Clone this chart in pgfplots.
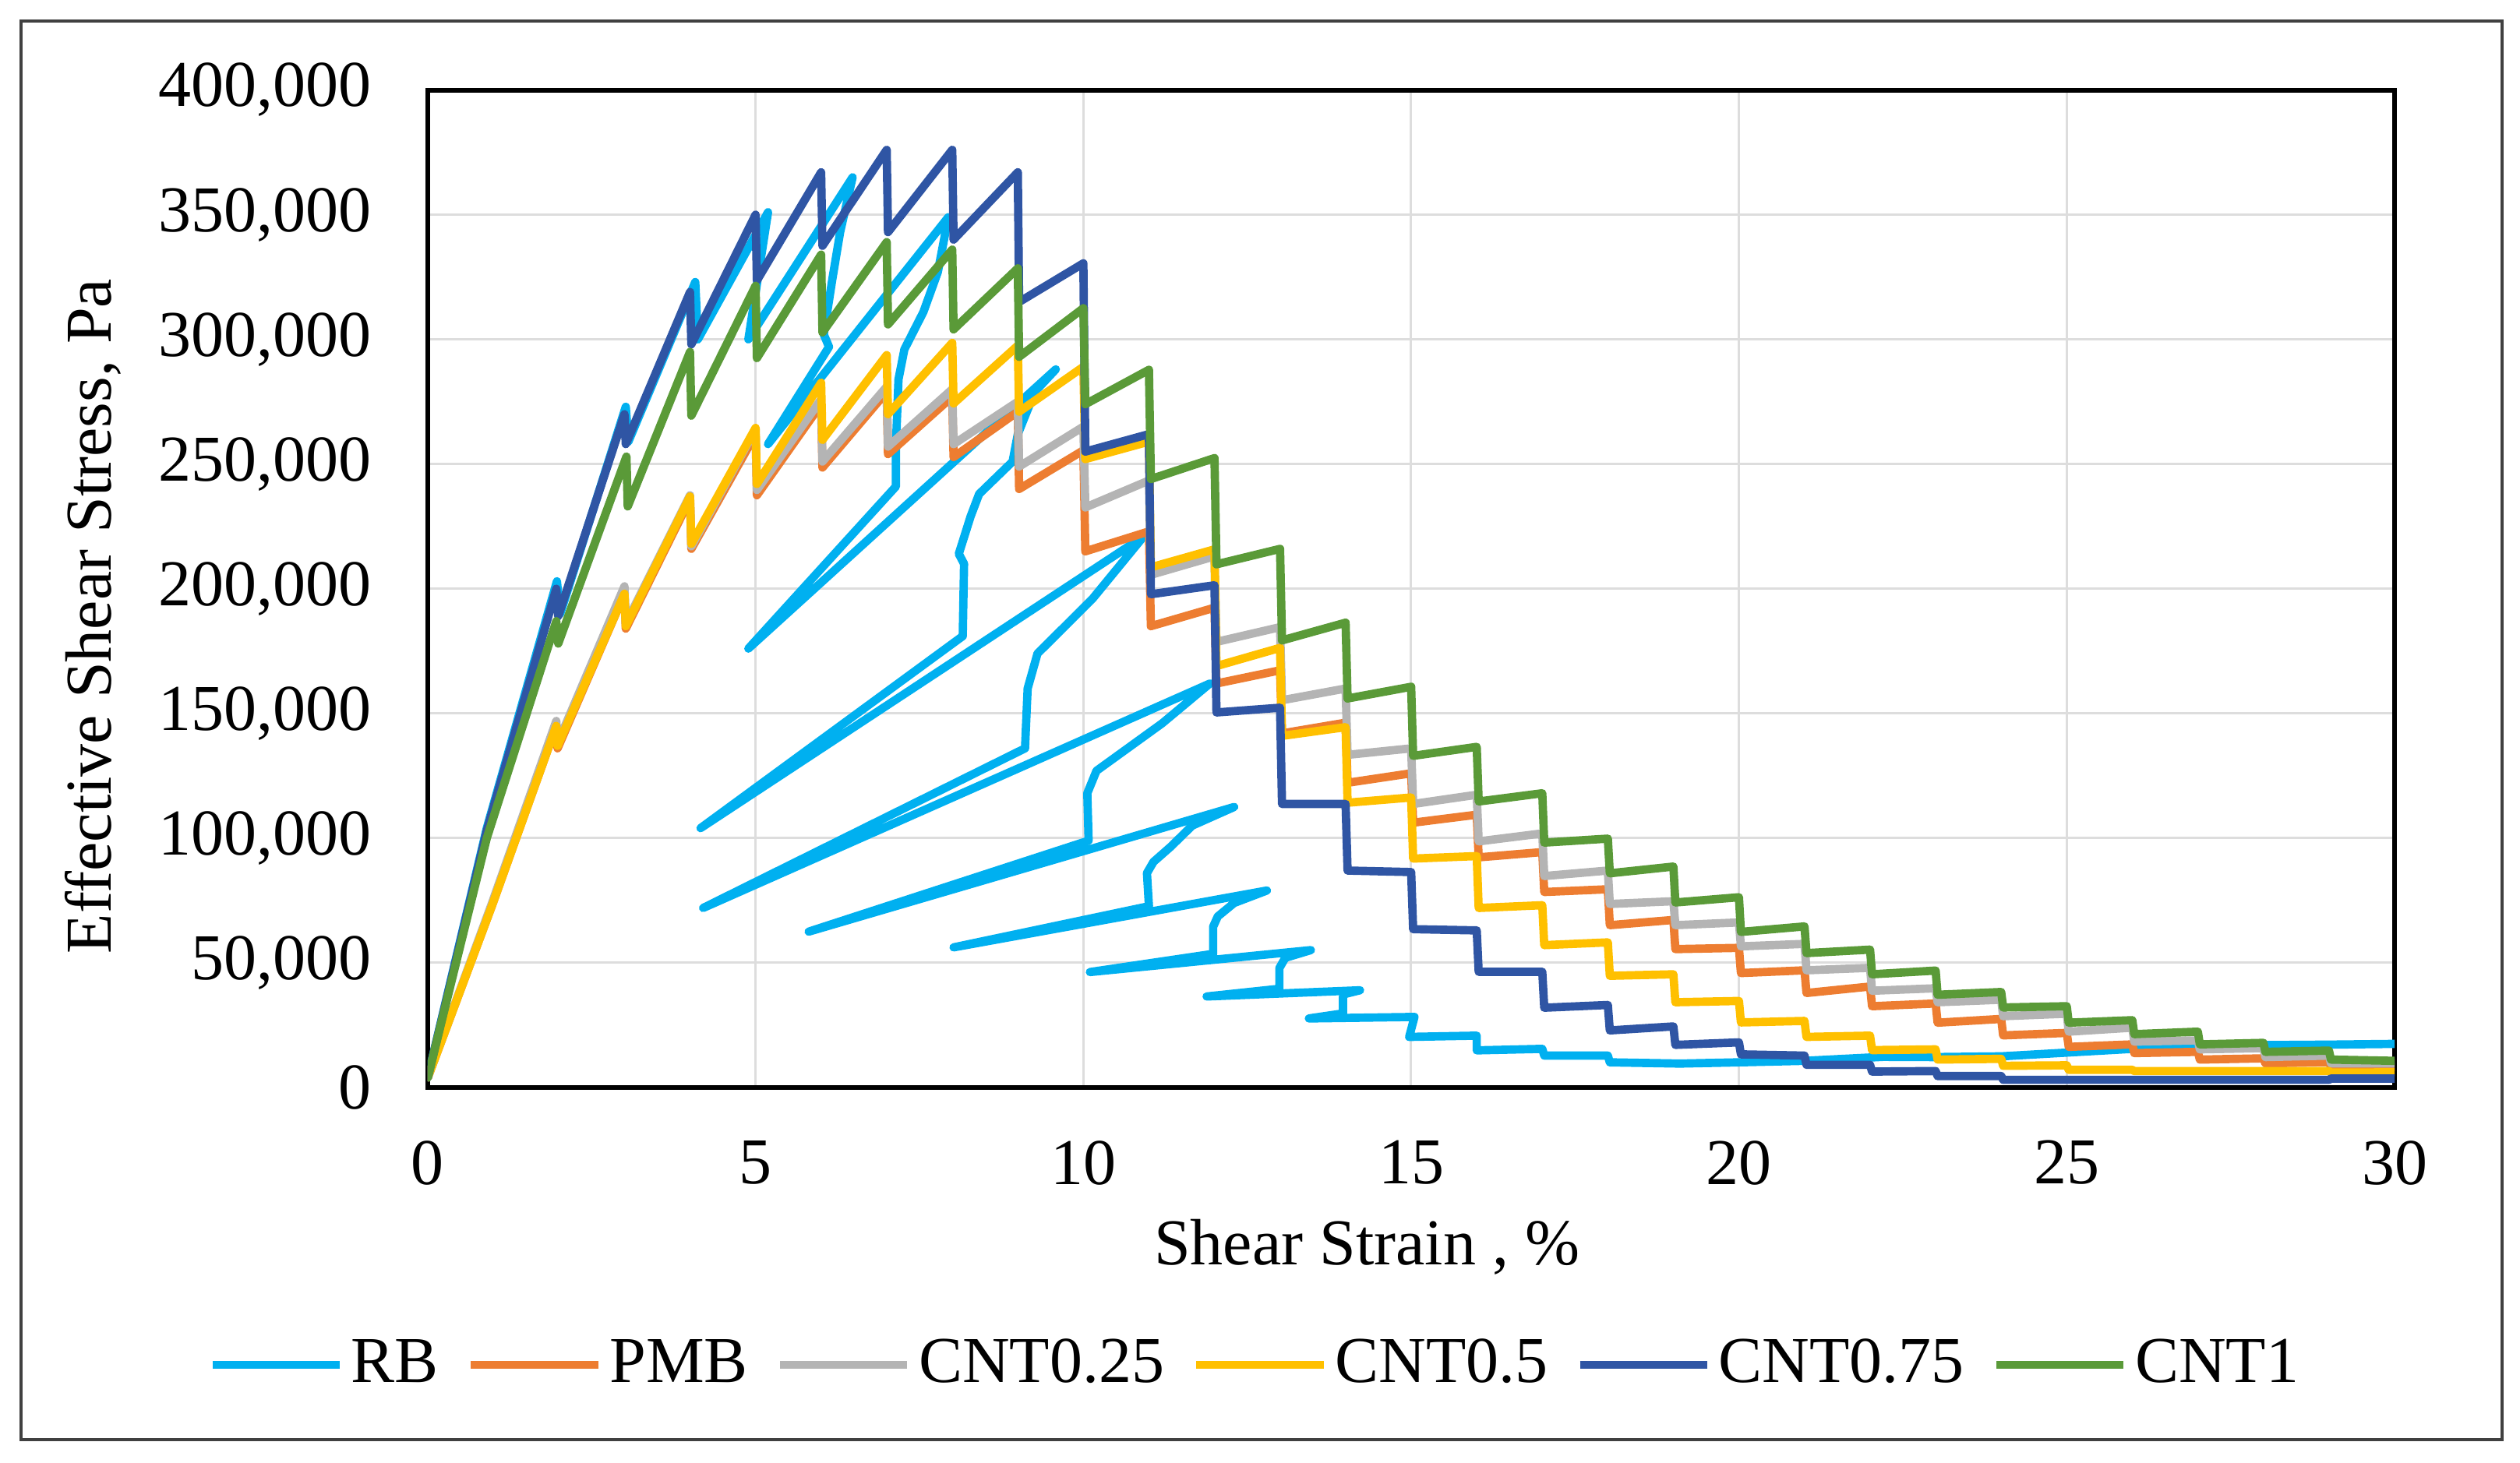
\documentclass[border=0pt]{standalone}
\usepackage{fontspec}
\setmainfont{Liberation Serif}
\usepackage{pgfplots}
\pgfplotsset{compat=1.18}
\definecolor{cRB}{HTML}{00B0F0}
\definecolor{cPMB}{HTML}{ED7D31}
\definecolor{cC25}{HTML}{B4B4B4}
\definecolor{cC5}{HTML}{FFC000}
\definecolor{cC75}{HTML}{2F55A4}
\definecolor{cC1}{HTML}{5A9A38}
\definecolor{gridgray}{HTML}{DDDDDD}
\newcommand\fs{\fontsize{12.6pt}{15pt}\selectfont}
\begin{document}
\begin{tikzpicture}
\useasboundingbox (-82.35pt,-72.15pt) rectangle (402.75pt,209.4pt);
\begin{axis}[
  at={(0pt,0pt)}, anchor=south west,
  scale only axis, width=378.6pt, height=192.075pt,
  xmin=0, xmax=30, ymin=0, ymax=400000,
  xtick={0,5,...,30}, ytick={0,50000,...,400000},
  scaled y ticks=false,
  major tick length=0pt,
  grid=major, grid style={draw=gridgray, line width=0.45pt},
  axis line style={draw=black, line width=0.9pt},
  tick label style={font=\fs},
  /pgf/number format/assume math mode=true,
  /pgf/number format/fixed, /pgf/number format/precision=0,
  /pgf/number format/1000 sep={,},
  yticklabel style={anchor=east, inner sep=0pt, xshift=-10.65pt},
  xticklabel style={anchor=north, inner sep=0pt, yshift=-10.05pt},
  every axis plot/.append style={line width=1.6pt, line join=round, line cap=round},
  legend columns=6,
  legend cell align=left,
  legend image code/.code={\draw[#1, line cap=butt] (0pt,0pt) -- (24.5pt,0pt);},
  legend style={draw=none, fill=none, inner sep=0pt, outer sep=0pt,
    at={(-0.1115,-0.278)}, anchor=west, font=\fs,
    nodes={inner sep=0pt},
    /tikz/every even column/.append style={column sep=5.4pt},
    /tikz/every odd column/.append style={column sep=1.4pt}},
]
% RB
\addplot[color=cRB] coordinates {
(0,4000) (0.9,104000) (1.97,203000) (2.02,190000) (3.02,273000) (3.06,259000)
(4.08,323000) (4.12,300000) (5.19,351000) (4.89,300000)
(6.48,365000) (6.29,343000) (6.17,324000) (6.04,302000) (6.12,297000)
(5.19,258000)
(7.94,349000) (7.78,327000) (7.56,311000) (7.27,296000) (7.18,284000) (7.14,257000) (7.14,241000)
(4.89,176000)
(9.58,288000) (9.26,279000) (9.0,262000) (8.92,251000) (8.41,238000) (8.28,229000) (8.1,214000) (8.18,210000) (8.16,181000)
(4.16,104000)
(10.92,221000) (10.14,196000) (9.3,174000) (9.15,160000) (9.11,136000)
(4.2,72000)
(11.93,162000) (11.2,146000) (10.2,127000) (10.06,118000) (10.08,99000)
(5.81,62500)
(12.3,112500) (11.66,105000) (11.33,96500) (11.07,90500) (10.97,86000) (11.0,72700)
(8.02,56200)
(12.8,79000) (12.3,74000) (12.05,68600) (11.98,64500) (11.98,53600)
(10.1,46300)
(13.47,55100) (13.08,52000) (12.99,47900) (12.99,39600)
(11.88,36500)
(14.22,39000) (13.99,37500) (13.96,36500) (13.96,29700)
(13.44,27700)
(15.05,28300) (14.97,20300) (16.0,20800) (16.0,14900) (17.0,15500) (17.03,12800)
(18.0,12800) (18.03,10100) (19.1,9600) (20,10100) (21,10700) (22.2,12300)
(23,12200) (24,12500) (25,14000) (26,15500) (27,16500) (28,17000) (29,17200) (30,17500)
};
\addlegendentry{RB}
% PMB
\addplot[color=cPMB] coordinates {
(0,4000) (0.98,73000) (1.96,145000) (1.98,136000) (3,198000) (3.02,184000)
(4,236000) (4.02,216000) (5,262000) (5.02,237500) (6,274000) (6.02,248600)
(7,279000) (7.02,254000) (8,277000) (8.02,252800) (9,271000) (9.02,240000)
(10,255500) (10.03,215000) (11,223000) (11.03,185000) (12,192400) (12.03,162000)
(13,167300) (13.03,142000) (14,146300) (14.03,122200) (15,126000) (15.03,106200)
(16,109400) (16.03,92300) (17,94400) (17.03,78400) (18,79500) (18.03,65100)
(19,67200) (19.03,55500) (20,56000) (20.03,45900) (21,47000) (21.03,37900)
(22,40500) (22.03,32600) (23,33700) (23.03,26000) (24,27500) (24.03,20900)
(25,21900) (25.03,16300) (26,17300) (26.03,13800) (27,14300) (27.03,11200)
(28,11700) (28.03,9700) (29,10200) (29.03,8200) (30,8200)
};
\addlegendentry{PMB}
% CNT0.25
\addplot[color=cC25] coordinates {
(0,4000) (0.98,74000) (1.96,147000) (1.98,138000) (3,201000) (3.02,186000)
(4,237500) (4.02,217000) (5,264000) (5.02,239600) (6,276000) (6.02,251000)
(7,281000) (7.02,257000) (8,280000) (8.02,258000) (9,275000) (9.02,249000)
(10,265000) (10.03,232600) (11,243400) (11.03,205600) (12,213000) (12.03,178700)
(13,184600) (13.03,155300) (14,160000) (14.03,133400) (15,136000) (15.03,113700)
(16,117400) (16.03,98700) (17,101900) (17.03,84800) (18,87000) (18.03,73600)
(19,74700) (19.03,65100) (20,66200) (20.03,56600) (21,57600) (21.03,47000)
(22,48000) (22.03,38800) (23,39800) (23.03,34200) (24,35200) (24.03,28600)
(25,29600) (25.03,22400) (26,24000) (26.03,18400) (27,18900) (27.03,15300)
(28,15800) (28.03,12200) (29,12800) (29.03,9700) (30,9700)
};
\addlegendentry{CNT0.25}
% CNT0.5
\addplot[color=cC5] coordinates {
(0,4000) (0.98,73000) (1.96,145000) (1.98,137000) (3,198000) (3.02,185000)
(4,237000) (4.02,218000) (5,264500) (5.02,242000) (6,282600) (6.02,259700)
(7,293700) (7.02,270000) (8,298600) (8.02,274300) (9,297500) (9.02,271000)
(10,289000) (10.03,252000) (11,259000) (11.03,208600) (12,215800) (12.03,169000)
(13,176300) (13.03,141000) (14,144500) (14.03,114200) (15,116300) (15.03,91800)
(16,92800) (16.03,72000) (17,73100) (17.03,57100) (18,58200) (18.03,44800)
(19,45400) (19.03,34200) (20,34700) (20.03,26100) (21,26700) (21.03,20300)
(22,20800) (22.03,15000) (23,15300) (23.03,11200) (24,11500) (24.03,8700)
(25,8900) (25.03,7100) (26,7100) (26.03,6600) (29,6600) (29.03,6000) (30,6100)
};
\addlegendentry{CNT0.5}
% CNT0.75
\addplot[color=cC75] coordinates {
(0,4000) (0.9,103000) (1.96,200000) (1.99,189000) (3,270000) (3.02,258000)
(4,319000) (4.02,298000) (5,350000) (5.02,323600) (6,367000) (6.02,337500)
(7,376000) (7.02,343000) (8,376000) (8.02,340000) (9,367000) (9.02,315000)
(10,330500) (10.03,255000) (11,262000) (11.03,197800) (12,201400) (12.03,150400)
(13,152300) (13.03,113700) (14,113700) (14.03,87000) (15,86400) (15.03,63500)
(16,63000) (16.03,46400) (17,46400) (17.03,32000) (18,33100) (18.03,22900)
(19,24500) (19.03,17100) (20,18100) (20.03,13300) (21,12800) (21.03,9100)
(22,9100) (22.03,6400) (23,6600) (23.03,4600) (24,4600) (24.03,3100)
(29,3100) (29.03,3600) (30,3600)
};
\addlegendentry{CNT0.75}
% CNT1
\addplot[color=cC1] coordinates {
(0,4000) (0.9,100000) (1.96,187000) (1.99,178000) (3.03,253000) (3.05,233000)
(4,295000) (4.02,269400) (5,321500) (5.02,292500) (6,334000) (6.02,302800)
(7,339000) (7.02,306000) (8,336000) (8.02,304000) (9,328500) (9.02,293000)
(10,312500) (10.03,274000) (11,287800) (11.03,244000) (12,252400) (12.03,209800)
(13,216000) (13.03,179300) (14,186400) (14.03,156000) (15,160700) (15.03,133000)
(16,136600) (16.03,114700) (17,118000) (17.03,98200) (18,99800) (18.03,85900)
(19,88600) (19.03,74200) (20,76300) (20.03,62400) (21,64600) (21.03,53900)
(22,55300) (22.03,45400) (23,46900) (23.03,37200) (24,38300) (24.03,32100)
(25,32600) (25.03,26000) (26,27000) (26.03,21400) (27,22400) (27.03,17300)
(28,17900) (28.03,14300) (29,14800) (29.03,11200) (30,10700)
};
\addlegendentry{CNT1}
\end{axis}
\node[anchor=base, font=\fs, inner sep=0pt] at (180.75pt,-34.05pt) {Shear Strain , \%};
\node[anchor=base, rotate=90, font=\fs, inner sep=0pt] at (-60.9pt,90.75pt) {Effective Shear Stress, Pa};
\draw[line width=0.5pt, draw=black!75] (-78.3pt,-67.8pt) rectangle (399.3pt,205.35pt);
\end{tikzpicture}
\end{document}
